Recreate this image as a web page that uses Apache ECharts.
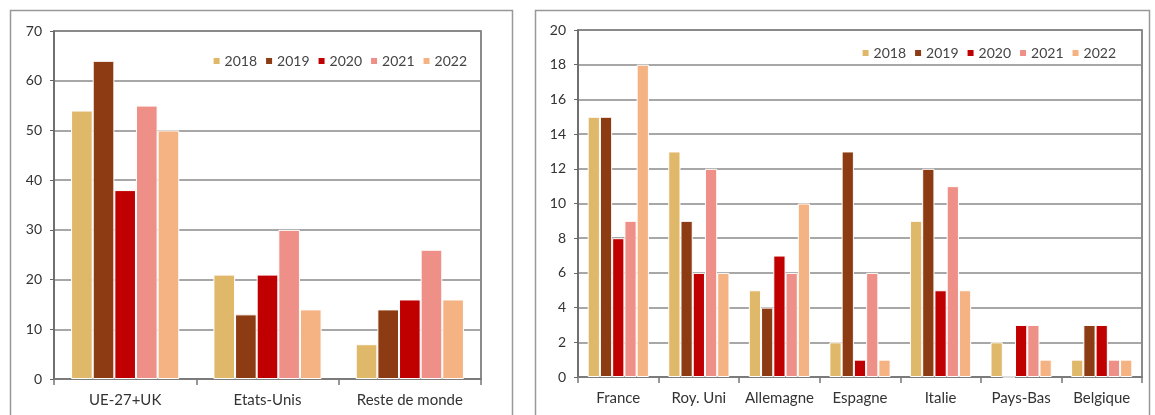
<!DOCTYPE html>
<html><head><meta charset="utf-8">
<script src="https://cdn.jsdelivr.net/npm/echarts@6/dist/echarts.min.js"></script>
<style>html,body{margin:0;padding:0;background:#fff}#c{width:1155px;height:415px}</style>
</head><body><div id="c"></div>
<script>
const years = ['2018','2019','2020','2021','2022'];
const colors = ['#E0B86A','#8C3B12','#C00000','#EE9088','#F5B283'];
const leftCats = ['UE-27+UK','Etats-Unis','Reste de monde'];
const left2018 = [54,21,7];
const left2019 = [64,13,14];
const left2020 = [38,21,16];
const left2021 = [55,30,26];
const left2022 = [50,14,16];
const rightCats = ['France','Roy. Uni','Allemagne','Espagne','Italie','Pays-Bas','Belgique'];
const right2018 = [15,13,5,2,9,2,1];
const right2019 = [15,9,4,13,12,0,3];
const right2020 = [8,6,7,1,5,3,3];
const right2021 = [9,12,6,6,11,3,1];
const right2022 = [18,6,10,1,5,1,1];
const leftTicks = {min:0,max:70,interval:10};
const rightTicks = {min:0,max:20,interval:2};

const leftData=[left2018,left2019,left2020,left2021,left2022];
const rightData=[right2018,right2019,right2020,right2021,right2022];
const FONT='Lato';
const chart = echarts.init(document.getElementById('c'),null,{renderer:'canvas'});
const series=[];
years.forEach((y,i)=>{
  series.push({name:y,type:'bar',xAxisIndex:0,yAxisIndex:0,data:leftData[i],barGap:'0%',barCategoryGap:'24%',
    itemStyle:{color:colors[i],borderColor:'#fff',borderWidth:1},emphasis:{disabled:true}});
  series.push({name:y,type:'bar',xAxisIndex:1,yAxisIndex:1,data:rightData[i],barGap:'0%',barCategoryGap:'24%',
    itemStyle:{color:colors[i],borderColor:'#fff',borderWidth:1},emphasis:{disabled:true}});
});
const yAx=(t)=>({type:'value',min:t.min,max:t.max,interval:t.interval,
  axisLine:{show:true,lineStyle:{color:'#666',width:1.5}},axisTick:{show:true,length:4,lineStyle:{color:'#666'}},
  axisLabel:{color:'#333',fontFamily:FONT,fontSize:14,margin:12},
  splitLine:{show:true,lineStyle:{color:'#8a8a8a',width:1.5}}});
const xAx=(cats,idx)=>({type:'category',gridIndex:idx,data:cats,
  axisLine:{show:true,lineStyle:{color:'#777',width:1.5}},
  axisTick:{show:true,length:6,lineStyle:{color:'#777',width:1.5}},
  axisLabel:{color:'#333',fontFamily:FONT,fontSize:15,margin:14,interval:0,hideOverlap:false}});
const legendCommon={icon:'rect',itemWidth:8,itemHeight:8,itemGap:7,data:years,
  textStyle:{color:'#444',fontFamily:FONT,fontSize:14,padding:[0,0,0,-1]}};
chart.setOption({
  animation:false,
  grid:[
    {left:54,top:31,width:427,height:348,show:true,borderColor:'#666',borderWidth:1.5,backgroundColor:'transparent'},
    {left:578,top:30,width:564,height:347,show:true,borderColor:'#666',borderWidth:1.5,backgroundColor:'transparent'}
  ],
  xAxis:[xAx(leftCats,0),xAx(rightCats,1)],
  yAxis:[Object.assign(yAx(leftTicks),{gridIndex:0}),Object.assign(yAx(rightTicks),{gridIndex:1})],
  legend:[
    Object.assign({right:683,top:49},legendCommon),
    Object.assign({right:34,top:41},legendCommon)
  ],
  graphic:[
    {type:'rect',shape:{x:10.5,y:10.5,width:502,height:420},style:{fill:'none',stroke:'#999',lineWidth:1.5},z:-1},
    {type:'rect',shape:{x:535.5,y:10.5,width:614,height:420},style:{fill:'none',stroke:'#999',lineWidth:1.5},z:-1}
  ],
  series:series
});
</script></body></html>
